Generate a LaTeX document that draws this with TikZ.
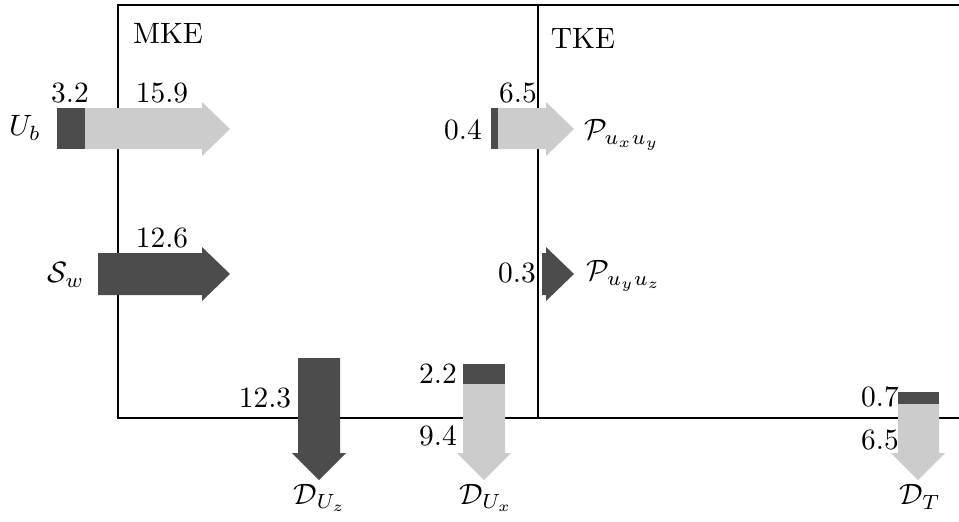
\documentclass[tikz,border=0pt]{standalone}
\usepackage{amsmath}
\begin{document}
\begin{tikzpicture}[x=0.34pt,y=-0.34pt,
  dk/.style={fill=black!70,draw=none},
  lt/.style={fill=black!20,draw=none},
  frame/.style={draw=black,line width=0.4pt},
  lbl/.style={inner sep=0pt,font=\fontsize{10}{12}\selectfont}]
\useasboundingbox (0,0) rectangle (959,521);
% frames
\draw[frame] (959,5) -- (118,5) -- (118,418) -- (959,418);
\draw[frame] (538,5) -- (538,418);
\node[lbl] (mke) at (168,33) {MKE};
\node[lbl] (tke) at (583,38) {TKE};
% U_b arrow
\fill[dk] (57,108) rectangle (85,149);
\fill[lt] (85,108) -- (202,108) -- (202,102) -- (230,129) -- (202,156) -- (202,149) -- (85,149) -- cycle;
\node[lbl] (ub) at (25,128) {$U_b$};
\node[lbl] (n32) at (70,93) {3.2};
\node[lbl] (n159) at (162,93) {15.9};
% S_w arrow
\fill[dk] (98,253) -- (202,253) -- (202,247) -- (230,274) -- (202,301) -- (202,295) -- (98,295) -- cycle;
\node[lbl] (sw) at (66,275) {$\mathcal{S}_w$};
\node[lbl] (n126) at (162,238) {12.6};
% P_uxuy arrow
\fill[dk] (491,108) rectangle (498,149);
\fill[lt] (498,108) -- (546,108) -- (546,102) -- (574,129) -- (546,156) -- (546,149) -- (498,149) -- cycle;
\node[lbl] (pxy) at (622,135) {$\mathcal{P}_{u_xu_y}$};
\node[lbl] (n65a) at (518,93) {6.5};
\node[lbl] (n04) at (463,130) {0.4};
% P_uyuz arrow
\fill[dk] (542,253) -- (546,253) -- (546,247) -- (574,274) -- (546,301) -- (546,295) -- (542,295) -- cycle;
\node[lbl] (pyz) at (624,276) {$\mathcal{P}_{u_yu_z}$};
\node[lbl] (n03) at (517,273) {0.3};
% D_Uz arrow
\fill[dk] (298,358) -- (340,358) -- (340,453) -- (346,453) -- (319,480) -- (292,453) -- (298,453) -- cycle;
\node[lbl] (duz) at (320,498) {$\mathcal{D}_{U_z}$};
\node[lbl] (n123) at (265,398) {12.3};
% D_Ux arrow
\fill[dk] (463,364) rectangle (505,384);
\fill[lt] (463,384) -- (505,384) -- (505,453) -- (511,453) -- (484,480) -- (457,453) -- (463,453) -- cycle;
\node[lbl] (dux) at (486,498) {$\mathcal{D}_{U_x}$};
\node[lbl] (n22) at (438,374) {2.2};
\node[lbl] (n94) at (438,436) {9.4};
% D_T arrow
\fill[dk] (898,392) rectangle (939,404);
\fill[lt] (898,404) -- (939,404) -- (939,453) -- (945,453) -- (918,480) -- (891,453) -- (898,453) -- cycle;
\node[lbl] (dt) at (920,497) {$\mathcal{D}_T$};
\node[lbl] (n07) at (880,397) {0.7};
\node[lbl] (n65b) at (880,440) {6.5};
\end{tikzpicture}
\end{document}
